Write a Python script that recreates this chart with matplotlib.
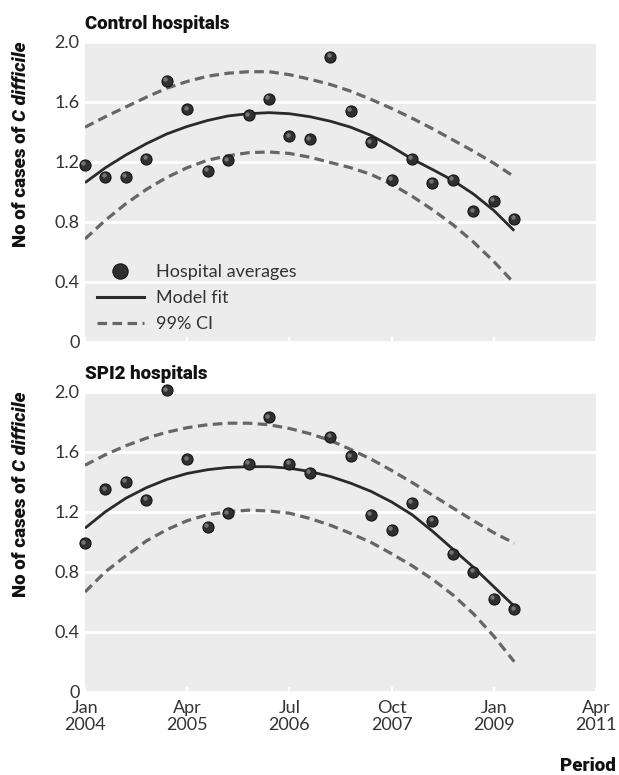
import numpy as np
import matplotlib
matplotlib.use("Agg")
import matplotlib.pyplot as plt
from matplotlib.lines import Line2D
from matplotlib.transforms import offset_copy

# Quarter index (0 = Jan 2004), one observation per quarter
quarters = list(range(22))

tick_positions = [0, 5, 10, 15, 20, 25]
tick_labels = ["Jan\n2004", "Apr\n2005", "Jul\n2006", "Oct\n2007", "Jan\n2009", "Apr\n2011"]
y_ticks = [0, 0.4, 0.8, 1.2, 1.6, 2.0]
y_tick_labels = ["0", "0.4", "0.8", "1.2", "1.6", "2.0"]

# Control hospitals
control_avg = [1.18, 1.10, 1.10, 1.22, 1.74, 1.55, 1.14, 1.21, 1.51, 1.62, 1.37,
               1.35, 1.90, 1.54, 1.33, 1.08, 1.22, 1.06, 1.08, 0.87, 0.94, 0.82]
control_fit = [1.06, 1.16, 1.245, 1.32, 1.385, 1.435, 1.475, 1.505, 1.52, 1.527, 1.52,
               1.50, 1.47, 1.43, 1.375, 1.30, 1.218, 1.148, 1.075, 0.985, 0.875, 0.74]
control_upper = [1.43, 1.50, 1.565, 1.63, 1.69, 1.735, 1.77, 1.79, 1.80, 1.80, 1.78,
                 1.75, 1.715, 1.67, 1.615, 1.555, 1.49, 1.42, 1.345, 1.27, 1.19, 1.10]
control_lower = [0.685, 0.81, 0.92, 1.015, 1.095, 1.16, 1.21, 1.24, 1.26, 1.265, 1.255,
                 1.23, 1.195, 1.16, 1.115, 1.05, 0.97, 0.88, 0.78, 0.665, 0.535, 0.39]

# SPI2 hospitals
spi2_avg = [0.99, 1.35, 1.40, 1.28, 2.01, 1.55, 1.10, 1.19, 1.52, 1.83, 1.52,
            1.46, 1.70, 1.57, 1.18, 1.08, 1.26, 1.14, 0.92, 0.80, 0.62, 0.55]
spi2_fit = [1.09, 1.20, 1.29, 1.36, 1.415, 1.455, 1.48, 1.495, 1.50, 1.50, 1.49,
            1.468, 1.435, 1.39, 1.335, 1.265, 1.18, 1.07, 0.95, 0.83, 0.70, 0.57]
spi2_upper = [1.51, 1.58, 1.64, 1.69, 1.73, 1.76, 1.78, 1.79, 1.79, 1.78, 1.755,
              1.72, 1.675, 1.615, 1.55, 1.475, 1.395, 1.31, 1.225, 1.14, 1.06, 0.99]
spi2_lower = [0.665, 0.80, 0.905, 1.005, 1.08, 1.14, 1.18, 1.20, 1.21, 1.205, 1.19,
              1.155, 1.11, 1.055, 0.995, 0.92, 0.84, 0.75, 0.645, 0.52, 0.37, 0.20]

BG = "#ececec"
FIT_COLOR = "#2a2a2a"
CI_COLOR = "#666666"
TEXT_COLOR = "#333333"
HEAD_COLOR = "#111111"
TICK_FONT = "Lato"
HEAD_FONT = "Roboto"
HEAD_SIZE = 13.5
TICK_SIZE = 13

fig = plt.figure(figsize=(6.19, 7.75), dpi=100)
W, H = 619, 775


def add_panel(top_px, title, avg, fit, upper, lower, show_x):
    ax = fig.add_axes([85 / W, 1 - (top_px + 300) / H, 511 / W, 300 / H])
    ax.set_facecolor(BG)
    for s in ax.spines.values():
        s.set_visible(False)
    ax.set_xlim(0, 25)
    ax.set_ylim(0, 2.0)
    ax.set_yticks(y_ticks)
    ax.set_yticklabels(y_tick_labels)
    ax.yaxis.grid(True, color="white", linewidth=2.0)
    ax.set_axisbelow(True)
    ax.tick_params(axis="y", length=0, pad=4, labelsize=TICK_SIZE, labelcolor=TEXT_COLOR)
    ax.set_xticks(tick_positions)
    ax.tick_params(axis="x", direction="in", length=3.5, width=1.6, color="white",
                   pad=6, labelsize=TICK_SIZE, labelcolor=TEXT_COLOR)
    if show_x:
        ax.set_xticklabels(tick_labels, linespacing=1.05)
    else:
        ax.set_xticklabels([])
    for lab in ax.get_xticklabels() + ax.get_yticklabels():
        lab.set_fontfamily(TICK_FONT)

    ci_style = dict(color=CI_COLOR, lw=2.3, linestyle=(0, (3.0, 1.7)),
                    dash_capstyle="butt", zorder=2)
    ax.plot(quarters, upper, **ci_style)
    ax.plot(quarters, lower, **ci_style)
    ax.plot(quarters, fit, color=FIT_COLOR, lw=2.0, solid_capstyle="butt", zorder=3)

    # shaded spheres for hospital averages
    ax.plot(quarters, avg, linestyle="none", marker="o", ms=8.0,
            mfc="#303030", mec="#151515", mew=0.8, zorder=4, clip_on=False)
    hl = offset_copy(ax.transData, fig=fig, x=-1.2, y=1.2, units="points")
    ax.plot(quarters, avg, linestyle="none", marker="o", ms=3.2,
            mfc="#8c8c8c", mec="none", alpha=0.75, zorder=5, clip_on=False,
            transform=hl)

    fig.text(85 / W, 1 - (top_px - 13) / H, title, fontfamily=HEAD_FONT,
             fontweight="heavy", fontsize=HEAD_SIZE, color=HEAD_COLOR, va="baseline")
    return ax


ax1 = add_panel(41.7, "Control hospitals", control_avg, control_fit,
                control_upper, control_lower, False)
ax2 = add_panel(391.7, "SPI2 hospitals", spi2_avg, spi2_fit,
                spi2_upper, spi2_lower, True)

# y-axis labels: upright bold part followed by the bold italic organism name
for ax, ybottom in ((ax1, 247), (ax2, 597)):
    first = fig.text(21 / W, 1 - ybottom / H, "No of cases of ",
                     rotation=90, ha="center", va="bottom", fontfamily=HEAD_FONT,
                     fontweight="heavy", fontsize=HEAD_SIZE, color=HEAD_COLOR)
    ax.annotate("C difficile", xy=(0.5, 1.0), xycoords=first,
                rotation=90, ha="center", va="bottom", fontfamily=HEAD_FONT,
                fontweight="heavy", fontstyle="italic", fontsize=HEAD_SIZE,
                color=HEAD_COLOR, annotation_clip=False)

fig.text(616 / W, 1 - 771 / H, "Period", ha="right", va="baseline",
         fontfamily=HEAD_FONT, fontweight="heavy", fontsize=HEAD_SIZE, color=HEAD_COLOR)

handles = [
    Line2D([], [], linestyle="none", marker="o", ms=11, mfc="#303030",
           mec="#151515", mew=0.8),
    Line2D([], [], color=FIT_COLOR, lw=2.2),
    Line2D([], [], color=CI_COLOR, lw=2.3, linestyle=(0, (3.0, 1.7))),
]
leg = ax1.legend(handles, ["Hospital averages", "Model fit", "99% CI"],
                 loc="center left", bbox_to_anchor=((96.7 - 85) / 511, (341.7 - 298) / 300),
                 frameon=False, borderpad=0, borderaxespad=0, handlelength=2.6,
                 handletextpad=0.7, labelspacing=0.55,
                 prop={"family": TICK_FONT, "size": TICK_SIZE})
for t in leg.get_texts():
    t.set_color(TEXT_COLOR)

fig.savefig("out.png", dpi=100, facecolor="white")
